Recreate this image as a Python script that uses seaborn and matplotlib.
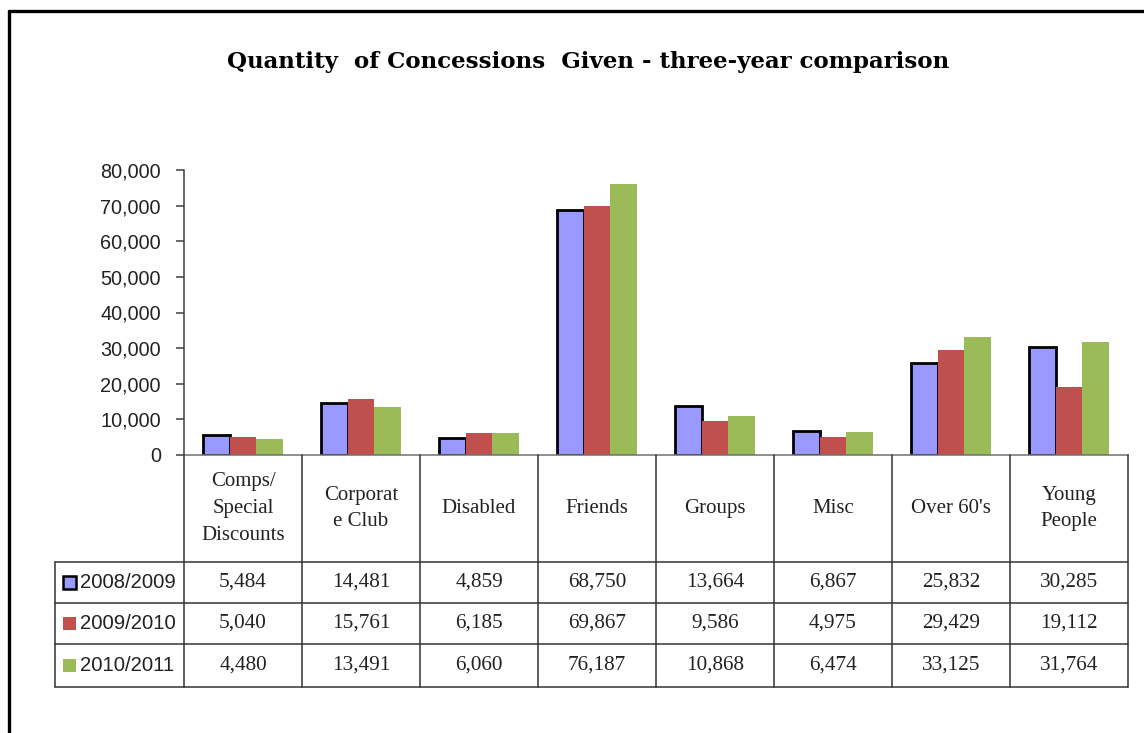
import matplotlib
matplotlib.use("Agg")
import matplotlib.pyplot as plt
import seaborn as sns
import pandas as pd
from matplotlib.lines import Line2D
from matplotlib.patches import Rectangle
from matplotlib.ticker import FuncFormatter, MultipleLocator

# data
categories = ["Comps/\nSpecial\nDiscounts", "Corporat\ne Club", "Disabled", "Friends",
              "Groups", "Misc", "Over 60's", "Young\nPeople"]
periods = ["2008/2009", "2009/2010", "2010/2011"]
vals_0809 = [5484, 14481, 4859, 68750, 13664, 6867, 25832, 30285]
vals_0910 = [5040, 15761, 6185, 69867, 9586, 4975, 29429, 19112]
vals_1011 = [4480, 13491, 6060, 76187, 10868, 6474, 33125, 31764]
colors = ["#9999FF", "#C0504D", "#9BBB59"]

series = [vals_0809, vals_0910, vals_1011]
df = pd.DataFrame({
    "category": categories * 3,
    "period": [p for p in periods for _ in categories],
    "value": vals_0809 + vals_0910 + vals_1011,
})

sns.set_theme(style="white")
plt.rcParams["font.family"] = ["Liberation Serif", "DejaVu Serif"]

W, H = 1144, 733
fig = plt.figure(figsize=(W / 100, H / 100), dpi=100)

def fbox(x0, y0, x1, y1):
    # pixel box (top-left origin) -> figure fraction rect
    return [x0 / W, 1 - y1 / H, (x1 - x0) / W, (y1 - y0) / H]

# ---- bars ----
ax = fig.add_axes(fbox(184, 170, 1128, 455))
sns.barplot(data=df, x="category", y="value", hue="period", palette=colors,
            width=0.68, ax=ax, legend=False, saturation=1, linewidth=0)
for bar in ax.containers[0]:
    bar.set_edgecolor("black")
    bar.set_linewidth(2)
ax.set_xlim(-0.5, len(categories) - 0.5)
ax.set_ylim(0, 80000)
ax.yaxis.set_major_locator(MultipleLocator(10000))
ax.yaxis.set_major_formatter(FuncFormatter(lambda v, p: f"{v:,.0f}"))
ax.set_xlabel("")
ax.set_ylabel("")
ax.set_xticks([])
for s in ("top", "right"):
    ax.spines[s].set_visible(False)
ax.spines["left"].set_color("#404040")
ax.spines["bottom"].set_color("#707070")
ax.spines["left"].set_linewidth(1.1)
ax.spines["bottom"].set_linewidth(1.1)
ax.tick_params(axis="y", direction="out", length=5.8, width=1.1, color="#404040",
               pad=10.8, labelsize=14.3, labelcolor="#222222", left=True)
for lab in ax.get_yticklabels():
    lab.set_fontfamily("Liberation Sans")

# ---- data table ----
ncat = len(categories)
left_col = 129 / 118
tab = fig.add_axes(fbox(55, 455, 1128, 688))
tab.set_xlim(-0.5 - left_col, ncat - 0.5)
tab.set_ylim(233, 0)
tab.axis("off")
row_edges = [0, 107, 148, 189, 232]
lc = "#333333"
for y in row_edges[1:]:
    tab.plot([-0.5 - left_col, ncat - 0.5], [y, y], color=lc, lw=1.1, clip_on=False)
for i in range(ncat + 1):
    tab.plot([i - 0.5, i - 0.5], [0, row_edges[-1]], color=lc, lw=1.1, clip_on=False)
tab.plot([-0.5 - left_col] * 2, [row_edges[1], row_edges[-1]], color=lc, lw=1.1, clip_on=False)

for i, name in enumerate(categories):
    tab.text(i, row_edges[1] / 2, name, ha="center", va="center", fontsize=15,
             color="#222222", linespacing=1.55)

for r, (period, vals, col) in enumerate(zip(periods, series, colors)):
    yc = (row_edges[r + 1] + row_edges[r + 2]) / 2
    for i, v in enumerate(vals):
        tab.text(i, yc, f"{v:,}", ha="center", va="center", fontsize=15.3, color="#222222")
    x0 = -0.5 - left_col + 8 / 118
    tab.add_patch(Rectangle((x0, yc - 6.5), 13 / 118, 13, facecolor=col,
                            edgecolor="black" if r == 0 else col, lw=1.8 if r == 0 else 0))
    tab.text(x0 + 17 / 118, yc, period, ha="left", va="center", fontsize=14.6,
             color="#222222", family="Liberation Sans")

# ---- title and frame ----
fig.text(588 / W, 1 - 62 / H, "Quantity  of Concessions  Given - three-year comparison",
         ha="center", va="center", fontsize=16.5, fontweight="bold", color="black",
         family="DejaVu Serif")
fig.add_artist(Line2D([9 / W, 9 / W], [0, 1 - 11 / H], color="black", lw=2.4))
fig.add_artist(Line2D([9 / W, 1], [1 - 11 / H, 1 - 11 / H], color="black", lw=2.4))

fig.savefig("out.png", dpi=100, facecolor="white")
